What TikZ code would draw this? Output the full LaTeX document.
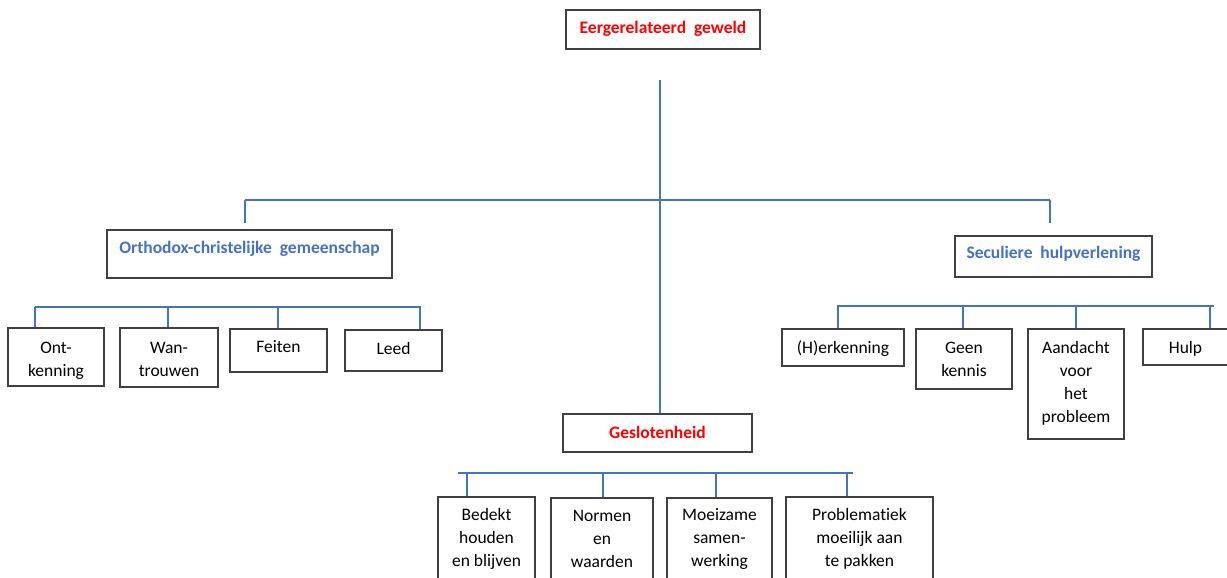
\documentclass[tikz,border=0pt]{standalone}
\usepackage{fontspec}
\setmainfont{Carlito}[Ligatures={NoCommon}]
\definecolor{lineblue}{HTML}{4472C4}
\definecolor{boxgray}{HTML}{404040}
\definecolor{hdrred}{HTML}{FF0000}
\newcommand{\rb}[2]{\raisebox{#1}[\height][\depth]{#2}}
\newcommand{\mylines}[3][0pt]{\rb{#1}{\parbox{#2}{\centering #3}}}
\begin{document}
\begin{tikzpicture}[x=1pt,y=-1pt,
  box/.style={draw=boxgray, line width=1.2pt, fill=white, inner sep=0pt, align=center,
    font=\fontsize{17.5}{23}\selectfont},
  hdr/.style={box, font=\fontsize{17.5}{23}\selectfont\bfseries},
  conn/.style={draw=lineblue, line width=1.1pt}]
\useasboundingbox (0,0) rectangle (1227,578);
% boxes
\node[hdr, text=hdrred, minimum width=194pt, minimum height=39pt] (top) at (663,29.5) {\rb{1pt}{Eergerelateerd\ \ geweld}};
\node[hdr, text=lineblue, minimum width=285pt, minimum height=48pt] (orth) at (249.5,254) {\rb{5pt}{Orthodox-christelijke\ \ gemeenschap}};
\node[hdr, text=lineblue, minimum width=197pt, minimum height=41pt] (secul) at (1053.5,256.5) {\rb{3pt}{Seculiere\ \ hulpverlening}};
\node[hdr, text=hdrred, minimum width=189pt, minimum height=38pt] (gesl) at (657.5,433) {\rb{0.5pt}{Geslotenheid}};

\node[box, minimum width=96pt, minimum height=58pt] (ont) at (56,357) {\mylines[-4pt]{90pt}{Ont-\\kenning}};
\node[box, minimum width=98pt, minimum height=59pt] (wan) at (169,357.5) {\mylines[-2pt]{90pt}{Wan-\\trouwen}};
\node[box, minimum width=97pt, minimum height=43pt] (feiten) at (278.5,350.5) {\rb{3.5pt}{Feiten}};
\node[box, minimum width=97pt, minimum height=41pt] (leed) at (393.5,350.5) {\rb{2.5pt}{Leed}};

\node[box, minimum width=122pt, minimum height=37pt] (herk) at (843,347.5) {\rb{-1pt}{(H)erkenning}};
\node[box, minimum width=96pt, minimum height=60pt] (geen) at (964,359) {\mylines{90pt}{Geen\\kennis}};
\node[box, minimum width=96pt, minimum height=110pt] (aand) at (1076,384) {\mylines[1pt]{90pt}{Aandacht\\voor\\het\\probleem}};
\node[box, minimum width=85pt, minimum height=36pt] (hulp) at (1185.5,347) {\rb{-2pt}{Hulp}};

\node[box, minimum width=97pt, minimum height=85pt] (bedekt) at (486.5,539.5) {\mylines[1pt]{90pt}{Bedekt\\houden\\en blijven}};
\node[box, minimum width=102pt, minimum height=84pt] (normen) at (602,540) {\mylines[1.5pt]{90pt}{Normen\\en\\waarden}};
\node[box, minimum width=105pt, minimum height=84pt] (moei) at (719.5,540) {\mylines[1pt]{95pt}{Moeizame\\samen-\\werking}};
\node[box, minimum width=147pt, minimum height=85pt] (probl) at (859.5,539.5) {\mylines[1pt]{140pt}{Problematiek\\moeilijk aan\\te pakken}};

% main connectors
\coordinate (stem) at (660,80);
\draw[conn] (stem) -- (stem |- gesl.north);
\coordinate (busL) at (245,200);
\coordinate (busR) at (1050,200);
\coordinate (dropL) at (245,223);
\coordinate (dropR) at (1050,223);
\draw[conn] (busL) -- (busR);
\draw[conn] (busL) -- (dropL);
\draw[conn] (busR) -- (dropR);

% left sub-tree
\coordinate (lbA) at (35,307);
\coordinate (lbB) at (421,307);
\draw[conn] (lbA) -- (lbB);
\coordinate (l1) at (35,307);
\coordinate (l2) at (168,307);
\coordinate (l3) at (278,307);
\coordinate (l4) at (420,307);
\draw[conn] (l1) -- (l1 |- ont.north);
\draw[conn] (l2) -- (l2 |- wan.north);
\draw[conn] (l3) -- (l3 |- feiten.north);
\draw[conn] (l4) -- (l4 |- leed.north);

% right sub-tree
\coordinate (rbA) at (837,306);
\coordinate (rbB) at (1214,306);
\draw[conn] (rbA) -- (rbB);
\coordinate (r1) at (838,306);
\coordinate (r2) at (963,306);
\coordinate (r3) at (1076,306);
\coordinate (r4) at (1210,306);
\draw[conn] (r1) -- (r1 |- herk.north);
\draw[conn] (r2) -- (r2 |- geen.north);
\draw[conn] (r3) -- (r3 |- aand.north);
\draw[conn] (r4) -- (r4 |- hulp.north);

% bottom sub-tree
\coordinate (bbA) at (458,473);
\coordinate (bbB) at (853,473);
\draw[conn] (bbA) -- (bbB);
\coordinate (b1) at (467,473);
\coordinate (b2) at (603,473);
\coordinate (b3) at (716,473);
\coordinate (b4) at (847,473);
\draw[conn] (b1) -- (b1 |- bedekt.north);
\draw[conn] (b2) -- (b2 |- normen.north);
\draw[conn] (b3) -- (b3 |- moei.north);
\draw[conn] (b4) -- (b4 |- probl.north);
\end{tikzpicture}
\end{document}
